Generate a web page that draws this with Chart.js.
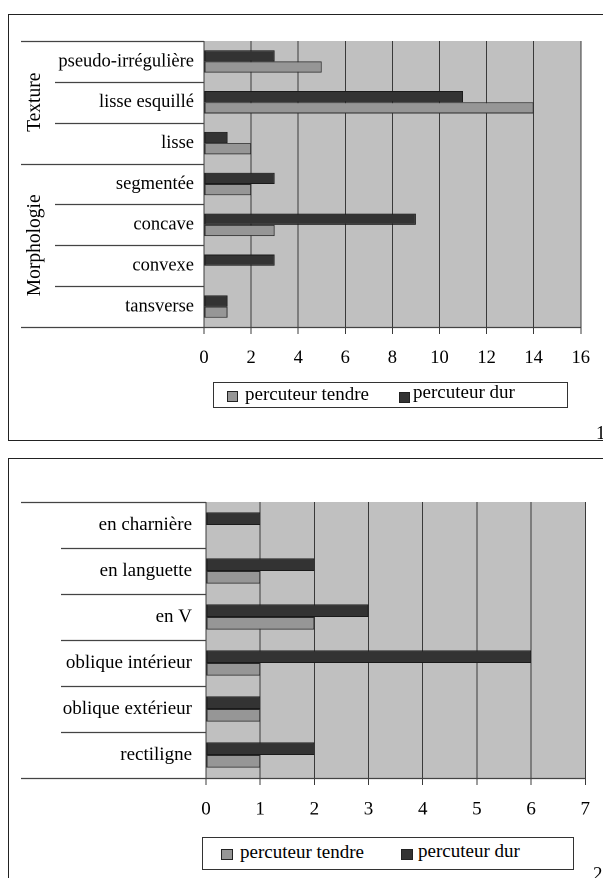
<!DOCTYPE html>
<html>
<head>
<meta charset="utf-8">
<script src="https://cdn.jsdelivr.net/npm/chart.js@4.4.1/dist/chart.umd.min.js"></script>
<style>
  html, body { margin:0; padding:0; background:#fff; width:603px; height:878px; overflow:hidden; position:relative; font-family:"Liberation Serif","DejaVu Serif",serif; }
  .frame { position:absolute; border:1.5px solid #222; box-sizing:border-box; }
  canvas { position:absolute; left:0; }
  .legend { position:absolute; border:1px solid #333; box-sizing:border-box; background:#fff; font-size:19px; color:#000; }
  .legend .mk { position:absolute; border:1px solid #222; box-sizing:border-box; }
  .legend .tx { position:absolute; white-space:nowrap; line-height:1; }
  .num { position:absolute; font-size:19px; color:#000; line-height:1; }
</style>
</head>
<body>
<div class="frame" style="left:8px;top:14px;width:620px;height:427px;"></div>
<div class="frame" style="left:8px;top:458px;width:620px;height:440px;"></div>
<canvas id="c1" width="603" height="440" style="top:0px;width:603px;height:440px;"></canvas>
<canvas id="c2" width="603" height="428" style="top:450px;width:603px;height:428px;"></canvas>

<div class="legend" style="left:213px;top:382px;width:355px;height:26px;">
  <div class="mk" style="left:13px;top:8px;width:11px;height:11px;background:#969696;"></div>
  <div class="tx" style="left:31px;top:1px;">percuteur tendre</div>
  <div class="mk" style="left:185px;top:9px;width:11px;height:11px;background:#333333;"></div>
  <div class="tx" style="left:199px;top:-1px;">percuteur dur</div>
</div>
<div class="legend" style="left:202px;top:837px;width:372px;height:33px;">
  <div class="mk" style="left:18px;top:11px;width:12px;height:11px;background:#969696;"></div>
  <div class="tx" style="left:37px;top:4px;">percuteur tendre</div>
  <div class="mk" style="left:198px;top:11px;width:12px;height:11px;background:#333333;"></div>
  <div class="tx" style="left:215px;top:3px;">percuteur dur</div>
</div>
<div class="num" style="left:596px;top:423px;">1</div>
<div class="num" style="left:593px;top:864px;">2</div>

<script>
// ---- Chart 1 data ----
const categories1 = ['pseudo-irrégulière','lisse esquillé','lisse','segmentée','concave','convexe','tansverse'];
const dur1 = [3, 11, 1, 3, 9, 3, 1];
const tendre1 = [5, 14, 2, 2, 3, 0, 1];
const groups1 = ['Texture','Morphologie'];
const groupRanges1 = [[0,2],[3,6]];
const xMax1 = 16, xStep1 = 2;

// ---- Chart 2 data ----
const categories2 = ['en charnière','en languette','en V','oblique intérieur','oblique extérieur','rectiligne'];
const dur2 = [1, 2, 3, 6, 1, 2];
const tendre2 = [0, 1, 2, 1, 1, 1];
const xMax2 = 7, xStep2 = 1;

const seriesNames = ['percuteur dur','percuteur tendre'];
const FONT = '"Liberation Serif", "Times New Roman", serif';

function makeChart(id, cats, dur, tendre, xMax, xStep, opts) {
  const decor = {
    id: 'decor',
    beforeDraw(chart) {
      const a = chart.chartArea, ctx = chart.ctx;
      ctx.save();
      ctx.fillStyle = '#c0c0c0';
      ctx.fillRect(a.left, a.top, a.right - a.left, a.bottom - a.top);
      ctx.restore();
    },
    afterDraw(chart) {
      const a = chart.chartArea, ctx = chart.ctx, ys = chart.scales.y;
      const n = cats.length;
      ctx.save();
      ctx.strokeStyle = '#444';
      ctx.lineWidth = 1.3;
      for (let i = 0; i <= n; i++) {
        const y = Math.round(ys.getPixelForValue(i - 0.5)) + 0.5;
        const full = (i === 0 || i === n || opts.fullBounds.includes(i));
        ctx.beginPath();
        ctx.moveTo(full ? opts.fullX : opts.innerX, y);
        ctx.lineTo(i === n ? a.right : a.left, y);
        ctx.stroke();
      }
      if (opts.groups) {
        ctx.fillStyle = '#000';
        ctx.font = opts.groupFont + 'px ' + FONT;
        ctx.textAlign = 'center';
        ctx.textBaseline = 'middle';
        opts.groups.forEach((g, k) => {
          const r = opts.groupRanges[k];
          const y0 = ys.getPixelForValue(r[0] - 0.5), y1 = ys.getPixelForValue(r[1] + 0.5);
          ctx.save();
          ctx.translate(opts.groupX, (y0 + y1) / 2);
          ctx.rotate(-Math.PI / 2);
          ctx.fillText(g, 0, 0);
          ctx.restore();
        });
      }
      ctx.restore();
    }
  };
  return new Chart(document.getElementById(id), {
    type: 'bar',
    data: {
      labels: cats,
      datasets: [
        { label: seriesNames[0], data: dur, backgroundColor: '#333333', borderColor: '#1a1a1a', borderWidth: 1, borderSkipped: false },
        { label: seriesNames[1], data: tendre, backgroundColor: '#969696', borderColor: '#2a2a2a', borderWidth: 1, borderSkipped: false }
      ]
    },
    options: {
      indexAxis: 'y',
      responsive: false,
      animation: false,
      devicePixelRatio: 2,
      layout: { padding: { top: opts.padTop, right: opts.padRight, left: 0, bottom: 0 } },
      plugins: { legend: { display: false }, tooltip: { enabled: false } },
      datasets: { bar: { categoryPercentage: 0.55, barPercentage: 1.0 } },
      scales: {
        x: {
          min: 0, max: xMax,
          ticks: { stepSize: xStep, color: '#000', font: { family: FONT, size: opts.tickFont }, padding: opts.tickPad, maxRotation: 0 },
          grid: { color: '#3a3a3a', lineWidth: 1, tickLength: 7, drawTicks: true },
          border: { display: false },
          afterFit(s) { s.height = opts.xHeight; }
        },
        y: {
          ticks: { color: '#000', font: { family: FONT, size: opts.labelFont }, padding: opts.labelPad },
          grid: { display: false, drawTicks: false, tickLength: 0 },
          border: { display: false },
          afterFit(s) { s.width = opts.yWidth; }
        }
      }
    },
    plugins: [decor]
  });
}

makeChart('c1', categories1, dur1, tendre1, xMax1, xStep1, {
  padTop: 41, padRight: 16, xHeight: 113, yWidth: 204, tickPad: 13, tickFont: 18.5, labelFont: 18.5, labelPad: 10,
  fullX: 21, innerX: 55, fullBounds: [3], groups: groups1, groupRanges: groupRanges1, groupX: 35, groupFont: 19.5
});
makeChart('c2', categories2, dur2, tendre2, xMax2, xStep2, {
  padTop: 52, padRight: 15, xHeight: 100, yWidth: 206, tickPad: 13, tickFont: 19, labelFont: 19, labelPad: 14,
  fullX: 21, innerX: 61, fullBounds: [], groups: null
});
</script>
</body>
</html>
